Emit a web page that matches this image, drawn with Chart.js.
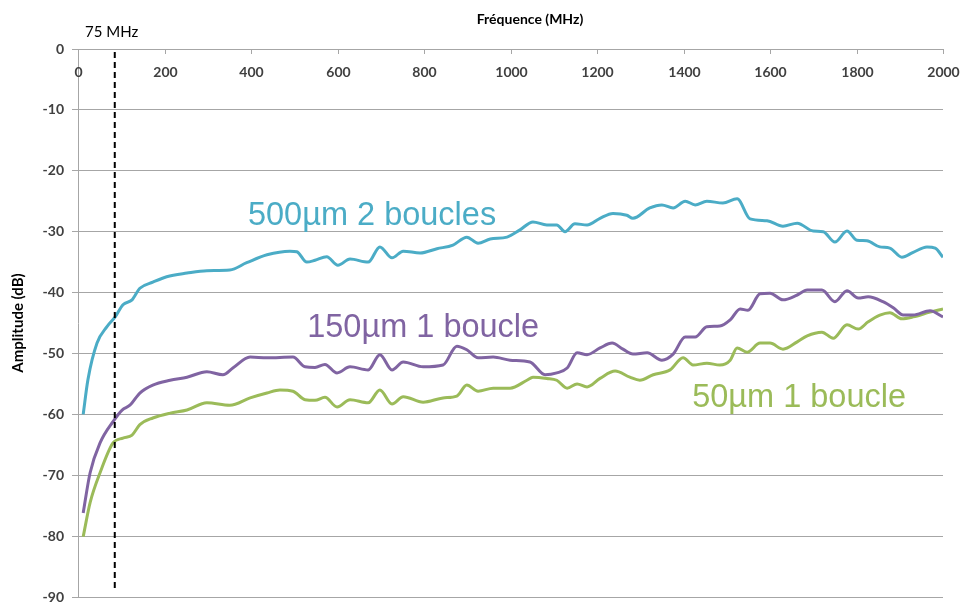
<!DOCTYPE html>
<html>
<head>
<meta charset="utf-8">
<script src="https://cdn.jsdelivr.net/npm/chart.js@4.4.1/dist/chart.umd.min.js"></script>
<style>
  html, body { margin: 0; padding: 0; background: #fff; }
  #wrap { width: 963px; height: 603px; }
</style>
</head>
<body>
<div id="wrap"><canvas id="freqChart" width="963" height="603"></canvas></div>
<script>
// x axis ticks (MHz) and y axis range (dB)
const xTicks = [0, 200, 400, 600, 800, 1000, 1200, 1400, 1600, 1800, 2000];
const yMin = -90;
const yMax = 0;
const markerText = '75 MHz';
const markerFreq = 85; // where the dashed line sits in the picture

const seriesNames = ['500µm 2 boucles', '150µm 1 boucle', '50µm 1 boucle'];

// 500µm 2 boucles
const blueFreq = [12, 23, 44, 67, 86, 104, 125, 143, 173, 205, 252, 298, 351, 390, 437, 490, 506, 529, 548, 575, 601, 629, 671, 698, 726, 752, 791, 830, 867, 899, 925, 953, 992, 1022, 1052, 1084, 1107, 1126, 1149, 1177, 1207, 1237, 1269, 1283, 1322, 1350, 1376, 1404, 1427, 1454, 1491, 1524, 1554, 1593, 1630, 1663, 1700, 1723, 1750, 1778, 1801, 1824, 1854, 1877, 1905, 1931, 1963, 1982, 2000];
const blueDb = [-60, -54.3, -48.3, -45.6, -44, -42, -41.2, -39.3, -38.3, -37.4, -36.8, -36.4, -36.3, -35.1, -33.8, -33.2, -33.3, -35, -34.7, -34.1, -35.5, -34.5, -35, -32.5, -34.3, -33.2, -33.5, -32.8, -32.2, -30.9, -31.9, -31.2, -30.9, -29.7, -28.4, -28.9, -28.9, -30, -28.7, -28.9, -27.8, -27, -27.3, -27.8, -26.1, -25.6, -26.1, -25, -25.6, -25, -25.3, -24.6, -27.9, -28.2, -29.1, -28.6, -29.9, -30, -31.7, -29.9, -31.4, -31.5, -32.5, -32.7, -34.2, -33.4, -32.5, -32.7, -34.2];

// 150µm 1 boucle
const purpleFreq = [12, 28, 51, 81, 102, 120, 143, 173, 213, 252, 298, 335, 358, 398, 437, 497, 525, 548, 571, 599, 629, 671, 698, 726, 752, 798, 844, 876, 899, 925, 960, 999, 1045, 1080, 1107, 1131, 1154, 1177, 1207, 1235, 1260, 1283, 1316, 1350, 1376, 1404, 1427, 1454, 1484, 1508, 1531, 1549, 1577, 1600, 1630, 1663, 1686, 1720, 1750, 1778, 1804, 1827, 1861, 1885, 1908, 1931, 1970, 2000];
const purpleDb = [-76.2, -69.6, -64.7, -61.2, -59.3, -58.5, -56.5, -55.2, -54.4, -53.9, -53, -53.5, -52.4, -50.6, -50.7, -50.6, -52.2, -52.3, -51.8, -53.2, -52.2, -52.7, -50.2, -52.7, -51.4, -52.2, -51.9, -48.8, -49.4, -50.7, -50.6, -51.1, -51.4, -53.5, -53.2, -52.4, -49.9, -50.2, -49.1, -48.3, -49.3, -50.1, -49.9, -51.1, -50.1, -47.3, -47.3, -45.6, -45.5, -44.5, -42.7, -42.9, -40.2, -40.1, -41.2, -40.4, -39.6, -39.6, -41.5, -39.7, -40.9, -40.7, -41.5, -42.5, -43.7, -43.7, -43, -44];

// 50µm 1 boucle
const greenFreq = [12, 28, 51, 81, 104, 125, 143, 173, 213, 252, 298, 351, 398, 437, 467, 497, 525, 548, 571, 599, 629, 671, 698, 726, 752, 798, 844, 876, 899, 925, 960, 999, 1038, 1052, 1084, 1107, 1131, 1154, 1177, 1207, 1242, 1276, 1299, 1330, 1369, 1399, 1422, 1454, 1484, 1508, 1524, 1547, 1577, 1600, 1630, 1663, 1686, 1720, 1746, 1778, 1804, 1827, 1854, 1877, 1905, 1931, 1970, 2000];
const greenDb = [-80.1, -74.5, -69.6, -64.7, -63.9, -63.4, -61.7, -60.6, -59.8, -59.3, -58.1, -58.5, -57.3, -56.5, -56, -56.2, -57.6, -57.7, -57.2, -58.8, -57.6, -58.1, -56, -58.3, -57.1, -58, -57.3, -57, -55.2, -56.2, -55.7, -55.7, -54.4, -53.9, -54.1, -54.4, -55.7, -55, -55.5, -54.1, -52.9, -53.9, -54.4, -53.5, -52.7, -50.7, -51.9, -51.6, -51.9, -51.1, -49.1, -49.8, -48.3, -48.3, -49.3, -48.1, -47.1, -46.5, -47.5, -45.3, -46, -44.8, -43.7, -43.3, -44.3, -44, -43.2, -42.7];

const colors = ['#4bacc6', '#8064a2', '#9bbb59'];

const toPoints = (xs, ys) => xs.map((x, i) => ({ x: x, y: ys[i] }));

// text drawn on the plot: x tick labels, title, marker label, series names
const overlayPlugin = {
  id: 'overlay',
  afterDraw(chart) {
    const { ctx, scales: { x, y } } = chart;
    const top = chart.chartArea.top;
    ctx.save();
    // tick marks + labels under the top axis line
    ctx.strokeStyle = '#a6a6a6';
    ctx.lineWidth = 1;
    ctx.fillStyle = '#404040';
    ctx.font = 'bold 14px Lato';
    ctx.textAlign = 'center';
    ctx.textBaseline = 'middle';
    xTicks.forEach(v => {
      const px = Math.round(x.getPixelForValue(v)) + 0.5;
      if (v !== 0) {
        ctx.beginPath();
        ctx.moveTo(px, top);
        ctx.lineTo(px, top + 5);
        ctx.stroke();
      }
      ctx.fillText(String(v), px, top + 23);
    });
    // axis title
    ctx.fillStyle = '#000';
    ctx.font = 'bold 14px Lato';
    ctx.fillText('Fréquence (MHz)', 530, 19);
    // marker label
    ctx.font = '15px Lato';
    ctx.textAlign = 'left';
    ctx.fillText(markerText, 85, 32);
    // series names
    const spots = [[393, -28.9], [530, -47.3], [1420, -58.8]];
    ctx.font = '32.5px "Liberation Sans"';
    ctx.textBaseline = 'alphabetic';
    seriesNames.forEach((name, i) => {
      ctx.fillStyle = colors[i];
      ctx.fillText(name, x.getPixelForValue(spots[i][0]), y.getPixelForValue(spots[i][1]));
    });
    ctx.restore();
  }
};

const lineStyle = (color) => ({
  borderColor: color,
  backgroundColor: color,
  borderWidth: 3,
  pointRadius: 0,
  cubicInterpolationMode: 'monotone',
  fill: false,
});

const ctx = document.getElementById('freqChart').getContext('2d');
const freqChart = new Chart(ctx, {
  type: 'line',
  data: {
    datasets: [
      {
        label: markerText,
        data: [{ x: markerFreq, y: -0.5 }, { x: markerFreq, y: -89 }],
        borderColor: '#000',
        borderWidth: 2,
        borderDash: [6, 4],
        pointRadius: 0,
        fill: false,
      },
      { label: seriesNames[0], data: toPoints(blueFreq, blueDb), ...lineStyle(colors[0]) },
      { label: seriesNames[1], data: toPoints(purpleFreq, purpleDb), ...lineStyle(colors[1]) },
      { label: seriesNames[2], data: toPoints(greenFreq, greenDb), ...lineStyle(colors[2]) },
    ],
  },
  options: {
    responsive: false,
    animation: false,
    layout: { padding: { top: 0, right: 20, bottom: 6, left: 0 } },
    plugins: {
      legend: { display: false },
      tooltip: { enabled: false },
    },
    scales: {
      x: {
        type: 'linear',
        position: 'top',
        min: 0,
        max: 2000,
        ticks: { display: false, stepSize: 200 },
        grid: { display: false },
        border: { display: false },
        afterFit: (scale) => { scale.height = 49; scale.paddingLeft = 0; scale.paddingRight = 0; },
      },
      y: {
        min: yMin,
        max: yMax,
        ticks: {
          stepSize: 10,
          color: '#404040',
          font: { family: 'Lato', size: 14, weight: 'bold' },
          padding: 8,
        },
        grid: { color: '#a6a6a6', lineWidth: 1, tickLength: 6 },
        border: { display: true, color: '#a6a6a6' },
        title: {
          display: true,
          text: 'Amplitude (dB)',
          color: '#000',
          font: { family: 'Lato', size: 15, weight: 'bold' },
          padding: { top: 9, bottom: 0 },
        },
        afterFit: (scale) => { scale.width = 78; scale.paddingTop = 0; scale.paddingBottom = 0; },
      },
    },
  },
  plugins: [overlayPlugin],
});
</script>
</body>
</html>
